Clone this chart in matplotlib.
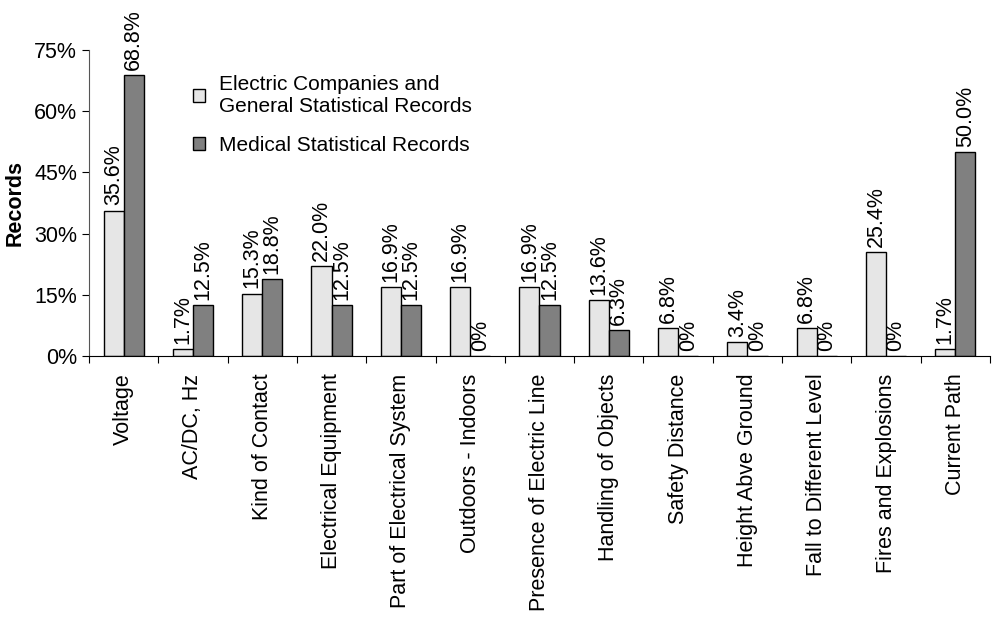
import matplotlib.pyplot as plt
import numpy as np
from matplotlib.patches import Patch

plt.rcParams['font.family'] = ['Liberation Sans', 'DejaVu Sans']

categories = ['Voltage', 'AC/DC, Hz', 'Kind of Contact', 'Electrical Equipment',
              'Part of Electrical System', 'Outdoors - Indoors', 'Presence of Electric Line',
              'Handling of Objects', 'Safety Distance', 'Height Abve Ground',
              'Fall to Different Level', 'Fires and Explosions', 'Current Path']
electric = [35.6, 1.7, 15.3, 22.0, 16.9, 16.9, 16.9, 13.6, 6.8, 3.4, 6.8, 25.4, 1.7]
medical = [68.8, 12.5, 18.8, 12.5, 12.5, 0, 12.5, 6.3, 0, 0, 0, 0, 50.0]

light = '#E6E6E6'
dark = '#808080'

fig = plt.figure(figsize=(9.95, 6.22), dpi=100)
ax = fig.add_axes([0.0894, 0.4277, 0.9056, 0.4919])

x = np.arange(len(categories))
w = 0.29
b1 = ax.bar(x - w / 2, electric, w, color=light, edgecolor='black', linewidth=1)
b2 = ax.bar(x + w / 2, medical, w, color=dark, edgecolor='black', linewidth=1)

def label_bars(bars, vals):
    for bar, v in zip(bars, vals):
        txt = '0%' if v == 0 else f'{v:.1f}%'
        ax.text(bar.get_x() + bar.get_width() / 2, v + 1.3, txt, rotation=90,
                ha='center', va='bottom', fontsize=15.5)

label_bars(b1, electric)
label_bars(b2, medical)

ax.set_xlim(-0.5, len(categories) - 0.5)
ax.set_ylim(0, 75)
ax.set_yticks([0, 15, 30, 45, 60, 75])
ax.set_yticklabels(['0%', '15%', '30%', '45%', '60%', '75%'], fontsize=15.5)
ax.set_ylabel('Records', fontsize=15.5, fontweight='bold', labelpad=6)

# category ticks sit between groups; names are placed under group centres
ax.set_xticks(np.arange(len(categories) + 1) - 0.5)
ax.set_xticklabels([])
ax.tick_params(axis='x', direction='out', length=5, color='black')
ax.tick_params(axis='y', direction='out', length=5, color='black')
for i, name in enumerate(categories):
    ax.text(i, -4.3, name, rotation=90, ha='center', va='top', fontsize=15.5,
            transform=ax.transData)

for s in ['top', 'right']:
    ax.spines[s].set_visible(False)
ax.spines['left'].set_color('#555555')
ax.spines['bottom'].set_color('black')

handles = [Patch(facecolor=light, edgecolor='black', label='Electric Companies and\nGeneral Statistical Records'),
           Patch(facecolor=dark, edgecolor='black', label='Medical Statistical Records')]
ax.legend(handles=handles, loc='upper left', bbox_to_anchor=(0.095, 0.98), frameon=False,
          fontsize=15, handlelength=0.55, handleheight=0.55, handletextpad=0.7, labelspacing=0.95)

fig.savefig('out.png', dpi=100)
